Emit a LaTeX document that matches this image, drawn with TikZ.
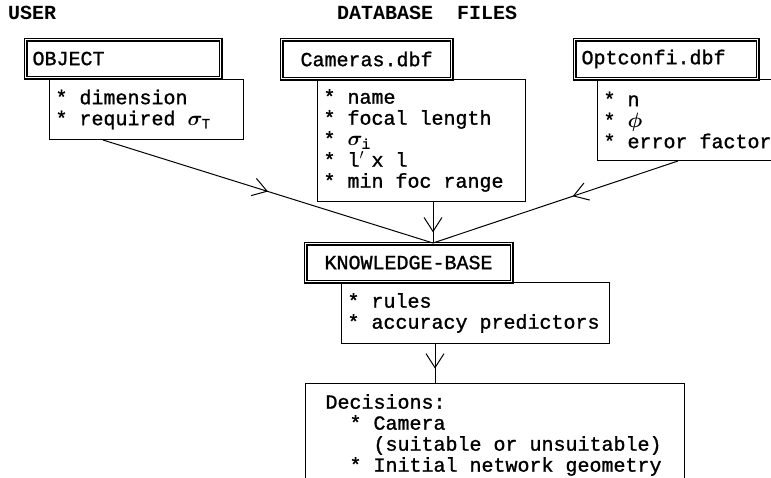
\documentclass[tikz,border=0pt]{standalone}
\usepackage{fontspec}
\setmainfont{Liberation Mono}[BoldFont=Liberation Mono, BoldFeatures={FakeBold=1.2}]
\newfontfamily\headfont{Liberation Mono Bold}
\usetikzlibrary{arrows.meta,decorations.markings}
\newcommand\bodyfont{\fontsize{20}{21}\selectfont\bfseries\spaceskip 12pt\relax}

\tikzset{
  titlebox/.style={draw, double, double distance=1.8pt, line width=1.1pt,
    anchor=north west, inner xsep=7pt, inner ysep=0pt},
  listbox/.style={draw, line width=1pt, anchor=north west, align=flush left,
    inner xsep=6pt, inner ysep=0pt},
  head/.style={anchor=west, font=\fontsize{20}{21}\selectfont\headfont, inner sep=0pt},
  midarrow/.style={line width=1pt, postaction={decorate},
    decoration={markings, mark=at position #1 with
      {\arrow{Straight Barb[length=14pt,width=18pt,line width=1pt]}}}}
}

\begin{document}
\begin{tikzpicture}[x=1pt, y=-1pt, font=\bodyfont]
\useasboundingbox (0,0) rectangle (771,478);
\clip (0,0) rectangle (771,478);

% headings
\node[head] (user) at (8,13) {USER};
\node[head] (dbfiles) at (337,13) {DATABASE~~FILES};

% object
\node[titlebox, text width=181pt, minimum height=38pt, align=flush left]
	(obj) at (25,39) {OBJECT};
\node[listbox, text width=182pt, minimum height=60pt]
	(objlist) at (49,79) {{*} dimension\\{*} required {\boldmath$\sigma_{\mathrm{T}}$}};

% cameras
\node[titlebox, text width=156pt, minimum height=39pt, align=flush center]
	(cam) at (281,39) {Cameras.dbf};
\node[listbox, text width=196pt, minimum height=122pt]
	(camlist) at (317,79) {{*} name\\{*} focal length\\{*} {\boldmath$\sigma_{\mathrm{i}}$}\\%
	{*} l\rlap{$^{\prime}$} x l\\{*} min foc range};

% optconfi
\node[titlebox, text width=169pt, minimum height=39pt, align=flush left]
	(opt) at (574,39) {Optconfi.dbf};
\node[listbox, text width=181pt, minimum height=81pt]
	(optlist) at (597,79) {{*} n\\{*} {\boldmath$\phi$}\\{*} error factor};

% knowledge base
\node[titlebox, text width=192pt, minimum height=38pt, align=flush center]
	(kb) at (305,243) {KNOWLEDGE-BASE};
\node[listbox, text width=256pt, minimum height=61pt]
	(kblist) at (341,282) {{*} rules\\{*} accuracy predictors};

% decisions
\node[listbox, inner xsep=20pt, text width=339pt, minimum height=103pt]
	(dec) at (305,383) {Decisions:\\%
	\phantom{xx}{*} Camera\\%
	\phantom{xxxx}(suitable or unsuitable)\\%
	\phantom{xx}{*} Initial network geometry};

\coordinate (kbin) at ([xshift=128pt]kb.north west);
\coordinate (decin) at ([xshift=130pt]dec.north west);

\draw[midarrow=0.5] ([xshift=54pt]objlist.south west) -- (kbin);
\draw[midarrow=0.74] (camlist.south -| kbin) -- (kbin);
\draw[midarrow=0.43] ([xshift=81pt]optlist.south west) -- (kbin);
\draw[midarrow=0.63] (kblist.south -| decin) -- (decin);
\end{tikzpicture}
\end{document}
